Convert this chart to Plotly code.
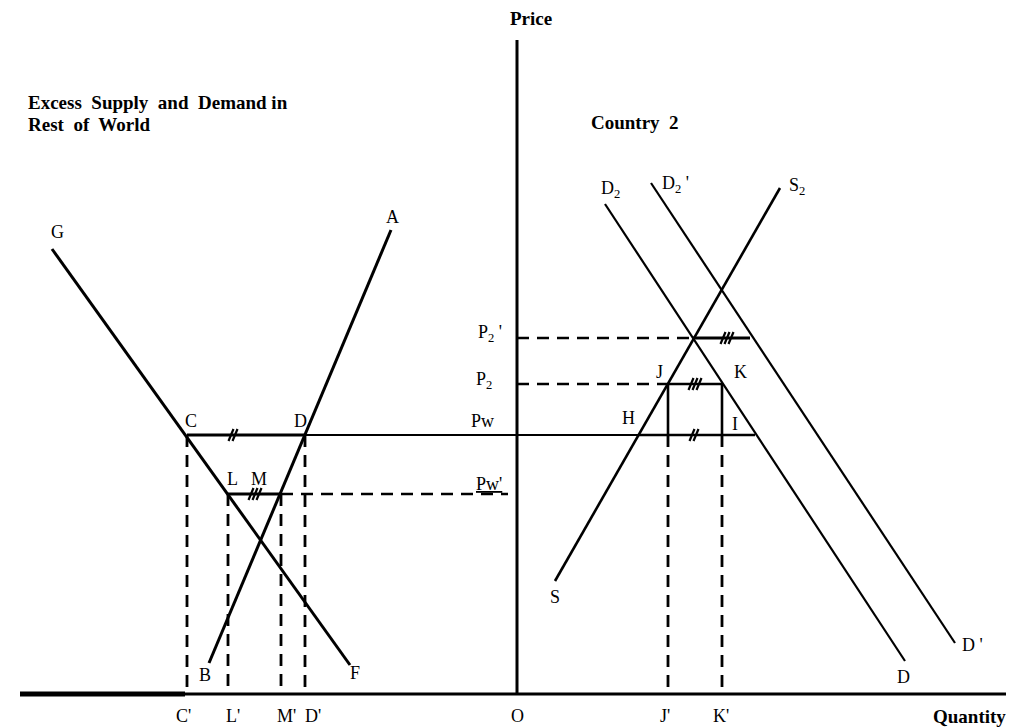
import plotly.graph_objects as go

# Endpoints of the drawn curves, in the diagram's own units (x right, y down)
# Rest of world (left panel)
line_GF_x = [52, 350]
line_GF_y = [249, 665]
line_BA_x = [209, 391]
line_BA_y = [663, 230]
# Country 2 (right panel)
line_S_x = [555, 780]
line_S_y = [581, 188]
line_D2_x = [605, 905]
line_D2_y = [204, 661]
line_D2p_x = [651, 955]
line_D2p_y = [183, 643]

# Price levels and quantities
pw = 435
pw_prime = 494
p2 = 384
p2_prime = 338
origin_x = 517
base_y = 694
q_C, q_L, q_M, q_D = 187, 228, 281, 305
q_H, q_J, q_K, q_I = 639, 668, 722, 755
q_P2p_left, q_P2p_right = 693, 750

# Point labels: text, x, y
labels = [
    ("G", 57, 232), ("A", 392, 217), ("C", 191, 421), ("D", 300, 421),
    ("L", 232, 479), ("M", 259, 479), ("B", 205, 675), ("F", 355, 673),
    ("Pw", 482, 421), ("<u>Pw'</u>", 489, 484), ("P<sub>2</sub> '", 490, 333),
    ("P<sub>2</sub>", 484, 380), ("H", 628, 418), ("I", 735, 424),
    ("J", 659, 372), ("K", 740, 372), ("S", 555, 597), ("D", 903, 677),
    ("D '", 972, 645), ("D<sub>2</sub>", 610, 189), ("D<sub>2</sub> '", 675, 184),
    ("S<sub>2</sub>", 797, 186),
    ("C'", 183, 716), ("L'", 233, 716), ("M'", 286, 716), ("D'", 313, 716),
    ("O", 517, 716), ("J'", 665, 716), ("K'", 721, 716),
]

# Hash marks on equal-length segments: centre x, centre y, count
hashes = [(233, pw, 2), (255, pw_prime, 3), (727, p2_prime, 3),
          (695, p2, 3), (694, pw, 2)]

fig = go.Figure()
DASH = "12px,8px"


def seg(xs, ys, width=2.6, dash="solid"):
    fig.add_trace(go.Scatter(x=xs, y=ys, mode="lines",
                             line=dict(color="black", width=width, dash=dash),
                             hoverinfo="skip", showlegend=False))


# axes
seg([origin_x, origin_x], [40, base_y], width=3)
seg([20, 185], [base_y, base_y], width=5)
seg([185, 1014], [base_y, base_y], width=3)

# curves
seg(line_GF_x, line_GF_y, 3)
seg(line_BA_x, line_BA_y, 3)
seg(line_S_x, line_S_y, 2.6)
seg(line_D2_x, line_D2_y, 2.2)
seg(line_D2p_x, line_D2p_y, 2.2)

# world price line
seg([q_C, origin_x], [pw, pw], 1.8)
seg([q_C, q_D], [pw, pw], 3)
seg([origin_x, q_I], [pw, pw], 1.8)
seg([q_H, q_I], [pw, pw], 2.6)

# new world price
seg([q_L, q_M], [pw_prime, pw_prime], 3)
seg([q_M, 508], [pw_prime, pw_prime], 2.6, DASH)

# country 2 prices
seg([origin_x, q_P2p_left], [p2_prime, p2_prime], 2.6, DASH)
seg([q_P2p_left, q_P2p_right], [p2_prime, p2_prime], 3)
seg([origin_x, q_J], [p2, p2], 2.6, DASH)
seg([q_J, q_K], [p2, p2], 2.6)
seg([q_J, q_J], [p2, pw], 2.6)
seg([q_K, q_K], [p2, pw], 2.6)

# dashed drop lines
for qx, top in [(q_C, pw), (q_L, pw_prime), (q_M, pw_prime), (q_D, pw),
                (q_J, pw), (q_K, pw)]:
    seg([qx, qx], [top, base_y], 2.8, DASH)

# hash marks
for cx, cy, n in hashes:
    for i in range(n):
        off = (i - (n - 1) / 2) * 4
        seg([cx + off - 2.5, cx + off + 2.5], [cy + 6, cy - 6], 2.2)

for text, x, y in labels:
    fig.add_annotation(x=x, y=y, text=text, showarrow=False,
                       font=dict(family="Liberation Serif", size=18, color="black"))

titles = [
    ("<b>Price</b>", 531, 18, "center"),
    ("<b>Country  2</b>", 589, 122, "left"),
    ("<b>Excess  Supply  and  Demand in</b>", 26, 102, "left"),
    ("<b>Rest  of  World</b>", 26, 124, "left"),
    ("<b>Quantity</b>", 1008, 716, "right"),
]
for text, x, y, anchor in titles:
    fig.add_annotation(x=x, y=y, text=text, showarrow=False, xanchor=anchor,
                       font=dict(family="Liberation Serif", size=19, color="black"))

# the page body has an 8px margin, so the plot starts at pixel 8
fig.update_xaxes(range=[8, 1014], visible=False, fixedrange=True)
fig.update_yaxes(range=[727, 8], visible=False, fixedrange=True)
fig.update_layout(width=1006, height=719, margin=dict(l=0, r=0, t=0, b=0),
                  plot_bgcolor="white", paper_bgcolor="white")

fig.write_html("out.html")
